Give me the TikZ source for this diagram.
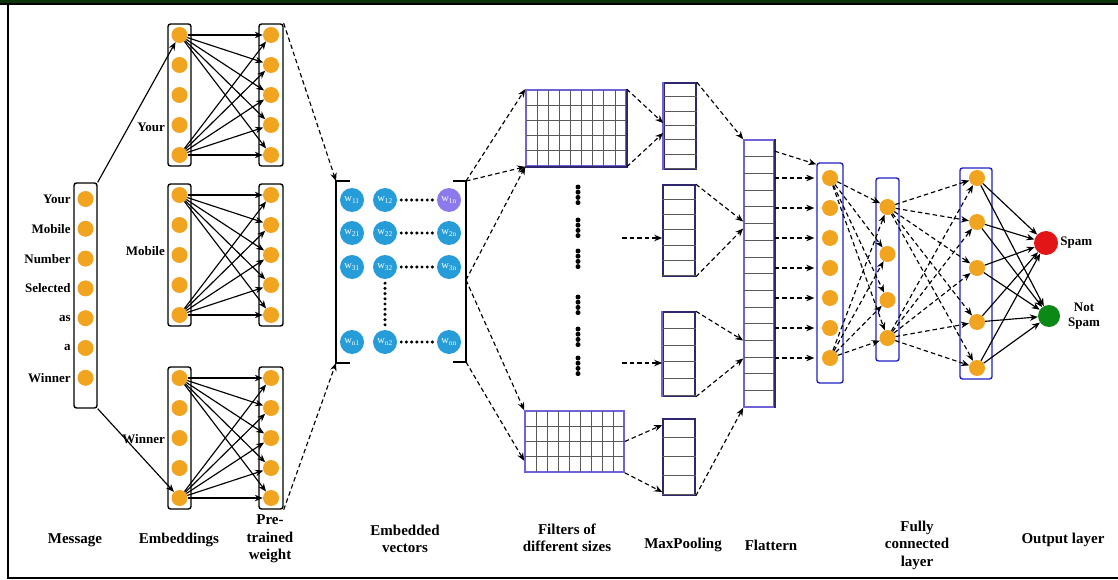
\documentclass[tikz,border=0pt]{standalone}
\usepackage{fontspec}
\setmainfont{Liberation Serif}
\usetikzlibrary{arrows.meta, calc, positioning}

\definecolor{neuronorange}{RGB}{240,164,32}
\definecolor{wblue}{RGB}{38,156,216}
\definecolor{wpurple}{RGB}{140,122,236}
\definecolor{fcblue}{RGB}{32,32,196}
\definecolor{gridblue}{RGB}{110,100,215}
\definecolor{griddark}{RGB}{45,40,110}
\definecolor{spamred}{RGB}{226,22,22}
\definecolor{okgreen}{RGB}{12,136,22}
\definecolor{framegreen}{RGB}{12,52,12}

\tikzset{
  neuron/.style={circle, fill=neuronorange, inner sep=0pt, minimum size=16pt},
  colbox/.style={draw, rounded corners=2.5pt, line width=1.4pt, inner sep=0pt},
  fcbox/.style={draw=fcblue, rounded corners=2.5pt, line width=1.4pt, inner sep=0pt},
  wnode/.style={circle, fill=wblue, inner sep=0pt, minimum size=24pt, text=white,
    font=\fontsize{10.5}{10.5}\selectfont},
  arr/.style={-{Stealth[length=8pt,width=6.5pt]}, line width=1.15pt},
  dasharr/.style={arr, dash pattern=on 4.5pt off 3pt},
  dotrow/.style={line width=3.4pt, line cap=round, dash pattern=on 0pt off 5.2pt,
    shorten <=4pt, shorten >=4pt},
  bracket/.style={line width=1.8pt},
  gridbox/.style={draw=gridblue, line width=1.6pt, inner sep=0pt},
  poolbox/.style={draw=griddark, line width=1.6pt, inner sep=0pt},
  gridline/.style={gray!70!black, line width=0.6pt},
  wordlabel/.style={font=\bfseries\fontsize{13}{14.5}\selectfont, inner sep=1pt},
  layername/.style={font=\bfseries\fontsize{15}{17.5}\selectfont, align=center},
}

\begin{document}
\begin{tikzpicture}[x=1pt, y=-1pt]
  \useasboundingbox (0,0) rectangle (1118,580);

  %% frame
  \fill[framegreen] (0,0) rectangle (1118,3);
  \fill[black] (0,3) rectangle (1118,5.5);
  \draw[line width=1.5pt] (8,5) -- (8,578) -- (1118,578);

  %% message column
  \node[colbox, minimum width=23pt, minimum height=225pt] (msg) at (85.5,295.5) {};
  \foreach \w [count=\i] in {Your,Mobile,Number,Selected,as,a,Winner} {
    \node[neuron] (m\i) at (85.5,{199+29.8*(\i-1)}) {};
    \node[wordlabel, left=5.5pt of m\i] (ml\i) {\w};
  }

  %% embeddings and pre-trained weights
  \foreach \g/\ty/\word/\wy in {1/35/Your/127, 2/195/Mobile/251, 3/378/Winner/439} {
    \node[colbox, minimum width=23pt, minimum height=142pt] (eb\g) at (179.5,{\ty+60}) {};
    \node[colbox, minimum width=24pt, minimum height=142pt] (pb\g) at (271,{\ty+60}) {};
    \node[wordlabel, anchor=east] (el\g) at (166,\wy) {\word};
    \foreach \i in {1,...,5} {
      \node[neuron] (e\g-\i) at (179.5,{\ty+30*(\i-1)}) {};
      \node[neuron] (p\g-\i) at (271,{\ty+30*(\i-1)}) {};
    }
    \foreach \s in {1,5}
      \foreach \t in {1,...,5}
        \draw[arr] (e\g-\s) -- (p\g-\t);
  }
  \draw[arr] (msg.north east) -- (e1-1);
  \draw[arr] (msg.south east) -- (e3-5);

  %% embedded vectors
  \coordinate (bl-t) at (336,181);
  \coordinate (bl-b) at (336,363);
  \coordinate (br-t) at (466,181);
  \coordinate (br-m) at (466,280);
  \coordinate (br-b) at (466,362);
  \draw[bracket] (350,181) -- (bl-t) -- (bl-b) -- (350,363);
  \draw[bracket] (453,181) -- (br-t) -- (br-b) -- (453,362);
  \foreach \r/\ry/\rn/\fc in {1/200/1/wpurple, 2/233/2/wblue, 3/267/3/wblue, 4/342/n/wblue} {
    \node[wnode] (w\r-1) at (352,\ry) {w\textsubscript{\rn1}};
    \node[wnode] (w\r-2) at (385,\ry) {w\textsubscript{\rn2}};
    \node[wnode, fill=\fc] (w\r-3) at (449,\ry) {w\textsubscript{\rn n}};
    \draw[dotrow] (w\r-2) -- (w\r-3);
  }
  \draw[dotrow] (w3-2) -- (w4-2);
  \draw[dasharr] (pb1.north east) -- (bl-t);
  \draw[dasharr] (pb3.south east) -- (bl-b);

  %% filters
  \node[gridbox, minimum width=100pt, minimum height=76pt] (f1) at (576,128) {};
  \foreach \k in {1,...,8}
    \draw[gridline] ({526+\k*100/9},90) -- ({526+\k*100/9},166);
  \foreach \k in {1,...,4}
    \draw[gridline] (526,{90+\k*76/5}) -- (626,{90+\k*76/5});
  \draw[griddark, line width=1.6pt] (f1.north east) -- (f1.south east) -- (f1.south west);

  \node[gridbox, minimum width=99pt, minimum height=61pt] (f2) at (574.5,441.5) {};
  \foreach \k in {1,...,8}
    \draw[gridline] ({525+\k*99/9},411) -- ({525+\k*99/9},472);
  \foreach \k in {1,...,3}
    \draw[gridline] (525,{411+\k*61/4}) -- (624,{411+\k*61/4});

  \foreach \gy in {187,220,251,297,329,358}
    \foreach \k in {0,...,3}
      \fill (578,{\gy+\k*5.2}) circle (2.5pt);

  \draw[dasharr] (br-t) -- (f1.north west);
  \draw[dasharr] (br-t) -- (f1.south west);
  \draw[dasharr] (br-m) -- (f1.south west);
  \draw[dasharr] (br-m) -- (f2.north west);
  \draw[dasharr] (br-b) -- ($(f2.south west)+(0,-12)$);

  %% max pooling
  \foreach \n/\cx/\cy/\h/\rows in {1/680/126/86/6, 2/679/230.5/91/6, 3/679/354/84/5, 4/679/457/76/4} {
    \node[poolbox, minimum width=32pt, minimum height=\h pt] (mp\n) at (\cx,\cy) {};
    \foreach \k in {1,...,\rows}
      \draw[gridline] ($(mp\n.north west)+(0,{\k*\h/\rows})$) -- ($(mp\n.north east)+(0,{\k*\h/\rows})$);
  }
  \draw[gridblue, line width=1.6pt] (mp1.north west) -- (mp1.south west);
  \draw[gridblue, line width=1.6pt] (mp3.north west) -- (mp3.south west);

  \coordinate (dA) at (622,238);
  \coordinate (dB) at (622,363);
  \draw[dasharr] (dA) -- (dA -| mp2.west);
  \draw[dasharr] (dB) -- (dB -| mp3.west);
  \draw[dasharr] (f1.north east) -- ($(mp1.west)+(0,-3)$);
  \draw[dasharr] (f1.south east) -- ($(mp1.west)+(0,7)$);
  \draw[dasharr] (f2.east) -- ($(mp4.west)+(0,-32)$);
  \draw[dasharr] (f2.south east) -- ($(mp4.west)+(0,35)$);

  %% flatten
  \node[poolbox, draw=gridblue, minimum width=30pt, minimum height=267pt] (fl) at (759,273.5) {};
  \foreach \k in {1,...,15}
    \draw[gridline] (744,{140+\k*267/16}) -- (774,{140+\k*267/16});
  \draw[griddark, line width=1.6pt] (fl.north east) -- (fl.south east);
  \draw[dasharr] (mp1.north east) -- (fl.north west);
  \draw[dasharr] (mp2.north east) -- ($(fl.west)+(0,-52)$);
  \draw[dasharr] (mp2.south east) -- ($(fl.west)+(0,-45)$);
  \draw[dasharr] (mp3.north east) -- ($(fl.west)+(0,67)$);
  \draw[dasharr] (mp3.south east) -- ($(fl.west)+(0,85)$);
  \draw[dasharr] (mp4.south east) -- (fl.south west);

  %% fully connected layers
  \node[fcbox, minimum width=26pt, minimum height=220pt] (fc1) at (830,273) {};
  \foreach \i in {1,...,7}
    \node[neuron] (a\i) at (830,{178+30*(\i-1)}) {};
  \node[fcbox, minimum width=23pt, minimum height=183pt] (fc2) at (887.5,269.5) {};
  \foreach \cy [count=\i] in {207,254,300,338}
    \node[neuron] (b\i) at (887.5,\cy) {};
  \node[fcbox, minimum width=32pt, minimum height=211pt] (fc3) at (976,273.5) {};
  \foreach \cy [count=\i] in {178,222,268,322,368}
    \node[neuron] (c\i) at (977,\cy) {};

  \draw[dasharr] ($(fl.north east)+(0,12)$) -- ($(fc1.north west)+(0,2)$);
  \foreach \i in {1,...,7}
    \draw[dasharr, shorten >=2pt] (fl.east |- a\i) -- (fc1.west |- a\i);
  \foreach \s in {1,7}
    \foreach \t in {1,...,4}
      \draw[dasharr] (a\s) -- (b\t);
  \foreach \s in {1,4}
    \foreach \t in {1,...,5}
      \draw[dasharr] (b\s) -- (c\t);

  %% output layer
  \node[circle, fill=spamred, inner sep=0pt, minimum size=24pt] (spam) at (1046,243) {};
  \node[circle, fill=okgreen, inner sep=0pt, minimum size=22pt] (notspam) at (1049,316) {};
  \foreach \s in {1,...,5} {
    \draw[arr] (c\s) -- (spam);
    \draw[arr] (c\s) -- (notspam);
  }
  \node[wordlabel, right=1pt of spam] (spamlab) {Spam};
  \node[wordlabel, align=center] (notspamlab) at (1084,316) {Not\\Spam};

  %% layer names
  \node[layername] (n1) at (75,540) {Message};
  \node[layername] (n2) at (179,540) {Embeddings};
  \node[layername] (n3) at (270,539) {Pre-\\trained\\weight};
  \node[layername] (n4) at (405,539) {Embedded\\vectors};
  \node[layername] (n5) at (567,538) {Filters of\\different sizes};
  \node[layername] (n6) at (683,545) {MaxPooling};
  \node[layername] (n7) at (771,545) {Flattern};
  \node[layername] (n8) at (917,545) {Fully\\connected\\layer};
  \node[layername] (n9) at (1063,540) {Output layer};

\end{tikzpicture}
\end{document}
